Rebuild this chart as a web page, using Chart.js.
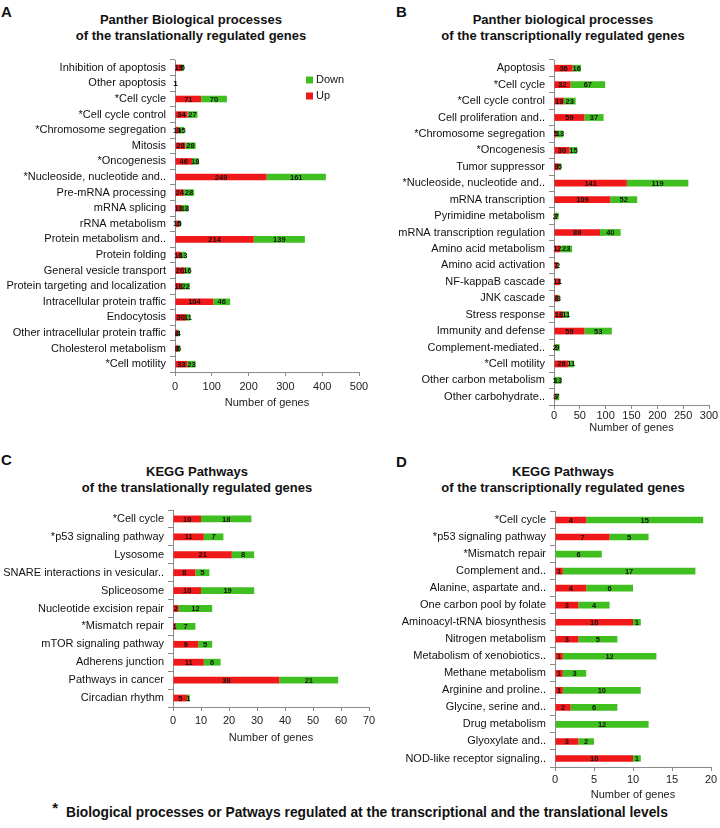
<!DOCTYPE html>
<html>
<head>
<meta charset="utf-8">
<script src="https://cdn.jsdelivr.net/npm/chart.js@4.4.1/dist/chart.umd.min.js"></script>
<style>
  html, body { margin: 0; padding: 0; background: #fff; overflow: hidden; }
  body { width: 720px; height: 828px; position: relative; font-family: "Liberation Sans", Arial, sans-serif; color: #111; }
  canvas { position: absolute; }
  .letter { position: absolute; font-weight: bold; font-size: 15px; }
  .title { position: absolute; text-align: center; font-weight: bold; font-size: 13px; line-height: 16px; }
  .note { position: absolute; left: 0; width: 720px; top: 803px; text-align: center; font-weight: bold; font-size: 13.8px; white-space: nowrap; }
  .note span { position: relative; top: -4px; font-size: 15px; margin-right: 8px; }
</style>
</head>
<body>
<div class="letter" style="left:1px;top:3px">A</div>
<div class="letter" style="left:396px;top:3px">B</div>
<div class="letter" style="left:1px;top:451px">C</div>
<div class="letter" style="left:396px;top:453px">D</div>

<div class="title" style="left:0;width:382px;top:12px">Panther Biological processes<br>of the translationally regulated genes</div>
<div class="title" style="left:406px;width:314px;top:12px">Panther biological processes<br>of the transcriptionally regulated genes</div>
<div class="title" style="left:0;width:394px;top:464px">KEGG Pathways<br>of the translationally regulated genes</div>
<div class="title" style="left:406px;width:314px;top:464px">KEGG Pathways<br>of the transcriptionally regulated genes</div>

<canvas id="chartA" width="374" height="410" style="left:0;top:0"></canvas>
<canvas id="chartB" width="364" height="435" style="left:360px;top:0"></canvas>
<canvas id="chartC" width="384" height="295" style="left:0;top:450px"></canvas>
<canvas id="chartD" width="344" height="352" style="left:382px;top:450px"></canvas>

<div class="note"><span>*</span>Biological processes or Patways regulated at the transcriptional and the translational levels</div>

<script>
// A - Panther, translationally regulated
const catsA = ['Inhibition of apoptosis', 'Other apoptosis', '*Cell cycle', '*Cell cycle control',
  '*Chromosome segregation', 'Mitosis', '*Oncogenesis', '*Nucleoside, nucleotide and..',
  'Pre-mRNA processing', 'mRNA splicing', 'rRNA metabolism', 'Protein metabolism and..',
  'Protein folding', 'General vesicle transport', 'Protein targeting and localization',
  'Intracellular protein traffic', 'Endocytosis', 'Other intracellular protein traffic',
  'Cholesterol metabolism', '*Cell motility'];
const upA   = [19, 1, 71, 34, 10, 28, 46, 249, 24, 18, 10, 214, 16, 26, 18, 104, 30, 8, 8, 33];
const downA = [5, 1, 70, 27, 15, 28, 18, 161, 28, 18, 5, 139, 13, 16, 22, 46, 11, 4, 6, 23];

// B - Panther, transcriptionally regulated
const catsB = ['Apoptosis', '*Cell cycle', '*Cell cycle control', 'Cell proliferation and..',
  '*Chromosome segregation', '*Oncogenesis', 'Tumor suppressor', '*Nucleoside, nucleotide and..',
  'mRNA transcription', 'Pyrimidine metabolism', 'mRNA transcription regulation',
  'Amino acid metabolism', 'Amino acid activation', 'NF-kappaB cascade', 'JNK cascade',
  'Stress response', 'Immunity and defense', 'Complement-mediated..', '*Cell motility',
  'Other carbon metabolism', 'Other carbohydrate..'];
const upB   = [36, 32, 19, 59, 5, 30, 9, 141, 109, 2, 89, 12, 7, 11, 8, 18, 59, 2, 28, 1, 3];
const downB = [16, 67, 23, 37, 13, 15, 5, 119, 52, 7, 40, 23, 2, 1, 3, 11, 53, 9, 11, 13, 7];

// C - KEGG, translationally regulated
const catsC = ['*Cell cycle', '*p53 signaling pathway', 'Lysosome', 'SNARE interactions in vesicular..',
  'Spliceosome', 'Nucleotide excision repair', '*Mismatch repair', 'mTOR signaling pathway',
  'Adherens junction', 'Pathways in cancer', 'Circadian rhythm'];
const upC   = [10, 11, 21, 8, 10, 2, 1, 9, 11, 38, 5];
const downC = [18, 7, 8, 5, 19, 12, 7, 5, 6, 21, 1];

// D - KEGG, transcriptionally regulated
const catsD = ['*Cell cycle', '*p53 signaling pathway', '*Mismatch repair', 'Complement and..',
  'Alanine, aspartate and..', 'One carbon pool by folate', 'Aminoacyl-tRNA biosynthesis',
  'Nitrogen metabolism', 'Metabolism of xenobiotics..', 'Methane metabolism',
  'Arginine and proline..', 'Glycine, serine and..', 'Drug metabolism', 'Glyoxylate and..',
  'NOD-like receptor signaling..'];
const upD   = [4, 7, 0, 1, 4, 3, 10, 3, 1, 1, 1, 2, 0, 3, 10];
const downD = [15, 5, 6, 17, 6, 4, 1, 5, 12, 3, 10, 6, 12, 2, 1];

const red = '#f01818';
const green = '#40c020';
const axisc = '#8a8a8a';

Chart.defaults.font.family = '"Liberation Sans", Arial, sans-serif';
Chart.defaults.color = '#111';

// numbers written in the middle of each bar piece
const barValues = {
  id: 'barValues',
  afterDatasetsDraw(chart) {
    const ctx = chart.ctx;
    ctx.save();
    ctx.font = 'bold 7.5px "Liberation Sans", Arial, sans-serif';
    ctx.fillStyle = '#111';
    ctx.textAlign = 'center';
    ctx.textBaseline = 'middle';
    chart.data.datasets.forEach((ds, i) => {
      chart.getDatasetMeta(i).data.forEach((bar, j) => {
        const v = ds.data[j];
        if (!v) return;
        ctx.fillText(v, (bar.x + bar.base) / 2, bar.y + 0.5);
      });
    });
    ctx.restore();
  }
};

// small legend inside the plot (Down above Up)
const cornerLegend = {
  id: 'cornerLegend',
  afterDraw(chart, args, opts) {
    if (!opts.show) return;
    const ctx = chart.ctx;
    ctx.save();
    ctx.font = '11px "Liberation Sans", Arial, sans-serif';
    ctx.textBaseline = 'middle';
    ctx.textAlign = 'left';
    chart.data.datasets.slice().reverse().forEach((ds, i) => {
      const y = opts.y + i * 16;
      ctx.fillStyle = ds.backgroundColor;
      ctx.fillRect(opts.x, y - 3.5, 7, 7);
      ctx.fillStyle = '#111';
      ctx.fillText(ds.label, opts.x + 10, y);
    });
    ctx.restore();
  }
};

function makeChart(id, cats, up, down, o) {
  return new Chart(document.getElementById(id), {
    type: 'bar',
    data: {
      labels: cats,
      datasets: [
        { label: 'Up', data: up, backgroundColor: red, borderWidth: 0 },
        { label: 'Down', data: down, backgroundColor: green, borderWidth: 0 }
      ]
    },
    options: {
      indexAxis: 'y',
      responsive: false,
      animation: false,
      devicePixelRatio: 1,
      categoryPercentage: 1,
      barPercentage: o.barPct,
      layout: { padding: { top: o.top, right: 15, left: 0, bottom: 0 } },
      scales: {
        x: {
          stacked: true,
          min: 0,
          max: o.max,
          afterFit: (s) => { s.height = o.xHeight; },
          ticks: { stepSize: o.step, font: { size: 11 }, color: '#222', padding: o.tickPad },
          grid: { drawOnChartArea: false, drawTicks: true, tickLength: 4, color: axisc },
          border: { color: axisc },
          title: { display: true, text: 'Number of genes', font: { size: 11 }, color: '#222', padding: { top: 0, bottom: 0 } }
        },
        y: {
          stacked: true,
          afterFit: (s) => { s.width = o.yWidth; },
          ticks: { font: { size: 11 }, color: '#111', padding: 4, autoSkip: false },
          grid: { drawOnChartArea: false, drawTicks: true, tickLength: 5, color: axisc, offset: true },
          border: { color: axisc }
        }
      },
      plugins: {
        legend: { display: false },
        tooltip: { enabled: false },
        cornerLegend: { show: !!o.legend, x: 306, y: 80 }
      }
    },
    plugins: [barValues, cornerLegend]
  });
}

makeChart('chartA', catsA, upA, downA, { max: 500, step: 100, barPct: 0.42, top: 60, yWidth: 175, xHeight: 38, tickPad: 4, legend: true });
makeChart('chartB', catsB, upB, downB, { max: 300, step: 50, barPct: 0.41, top: 60, yWidth: 194, xHeight: 30, tickPad: 0 });
makeChart('chartC', catsC, upC, downC, { max: 70, step: 10, barPct: 0.38, top: 60, yWidth: 173, xHeight: 38, tickPad: 3 });
makeChart('chartD', catsD, upD, downD, { max: 20, step: 5, barPct: 0.39, top: 61.5, yWidth: 173, xHeight: 35, tickPad: 2 });
</script>
</body>
</html>
